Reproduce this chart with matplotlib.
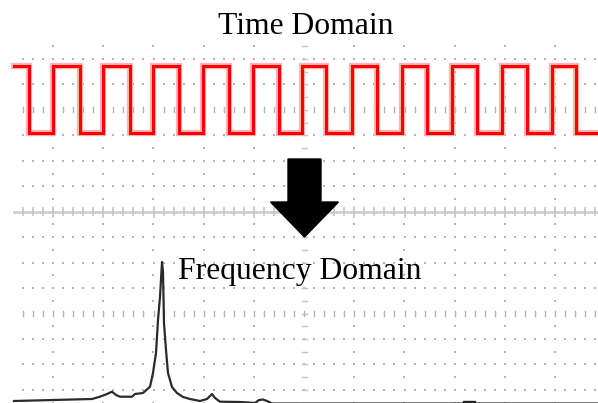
import numpy as np
import matplotlib
matplotlib.use('Agg')
import matplotlib.pyplot as plt
from matplotlib.patches import FancyArrow, Rectangle

# Square wave: edge positions (screen px)
fall_x = [29, 80, 130, 179, 229, 279, 326, 377, 427, 477, 527, 576]
rise_x = [53, 103, 153, 203, 253, 302, 352, 402, 452, 502, 552]
wave_start, wave_end = 14, 598
level_high, level_low = 66, 133

# Spectrum trace (screen px)
freq_x = [14, 92, 100, 107, 112, 116, 120, 132, 135, 143, 150, 153, 156, 158, 160,
          162, 163, 164, 166, 168, 172, 177, 183, 190, 200, 207, 212, 215, 220, 240,
          255, 259, 263, 267, 272, 598]
freq_y = [401, 399, 396.7, 394, 391.7, 395, 396.7, 396.7, 394, 393, 386.7, 373, 353, 320, 297,
          262, 272, 323, 350, 373, 387, 393, 397, 399, 401, 399, 394, 398, 401.7, 402,
          403, 400, 399.5, 401, 403.5, 403.5]

title_top = 'Time Domain'
title_bottom = 'Frequency Domain'

fig = plt.figure(figsize=(5.98, 4.03), dpi=100)
ax = fig.add_axes([0, 0, 1, 1])
ax.set_xlim(0, 598)
ax.set_ylim(403, 0)
ax.axis('off')

# graticule
grid_c = '#b4b4b4'
row0, row_step = 59, 25.45
col0, col_step = 53, 50.2
minor_x = np.arange(23, 598, 10.04)
rows = row0 + row_step * np.arange(14)
half_rows = row0 - row_step / 2 + row_step * np.arange(15)
center_x = col0 + 5 * col_step

for k, ry in enumerate(rows):
    if k == 6:
        ax.plot([14, 598], [ry, ry], color='#cfcfcf', lw=2, zorder=1)
        for mx in minor_x:
            h = 5 if abs(((mx - col0) / col_step) - round((mx - col0) / col_step)) < 0.05 else 3.5
            ax.plot([mx, mx], [ry - h, ry + h], color='#c4c4c4', lw=1.2, zorder=1)
    elif k in (2, 10):
        for mx in minor_x:
            ax.plot([mx, mx], [ry - 2.5, ry + 2.5], color=grid_c, lw=1.0, zorder=1)
    else:
        ax.scatter(minor_x, np.full_like(minor_x, ry), s=1.3, marker='s',
                   color=grid_c, linewidths=0, zorder=1)

for j in range(11):
    cx = col0 + j * col_step
    if j == 5:
        ticks_y = np.arange(row0 - row_step / 2, 404, row_step / 2)
        for ty in ticks_y:
            ax.plot([cx - 2.5, cx + 2.5], [ty, ty], color='#c4c4c4', lw=1.0, zorder=1)
    else:
        ax.scatter(np.full_like(half_rows, cx), half_rows, s=1.3, marker='s',
                   color=grid_c, linewidths=0, zorder=1)

# square wave
edges = sorted([(x, level_low) for x in fall_x] + [(x, level_high) for x in rise_x])
wx = [wave_start] + [e[0] for e in edges] + [wave_end]
wy = [level_high] + [e[1] for e in edges] + [level_low]
ax.plot(wx, wy, drawstyle='steps-post', color='#ffb3b3', lw=4.5, zorder=3,
        solid_joinstyle='miter')
ax.plot(wx, wy, drawstyle='steps-post', color='#ff0000', lw=2.2, zorder=4,
        solid_joinstyle='miter')

# spectrum
ax.plot(freq_x, freq_y, color='#2a2a2a', lw=1.6, zorder=4)
ax.add_patch(Rectangle((463, 400.5), 12, 3, color='#222222', zorder=4))

# arrow
ax.add_patch(FancyArrow(304.5, 159, 0, 78, width=33, head_width=68, head_length=35,
                        length_includes_head=True, color='black', zorder=5))

# labels
ax.text(306, 34, title_top, ha='center', va='baseline', fontsize=22.8,
        family='Liberation Serif', zorder=6)
ax.text(178, 279, title_bottom, ha='left', va='baseline', fontsize=22.8,
        family='Liberation Serif', zorder=6)

fig.savefig('out.png', dpi=100)
